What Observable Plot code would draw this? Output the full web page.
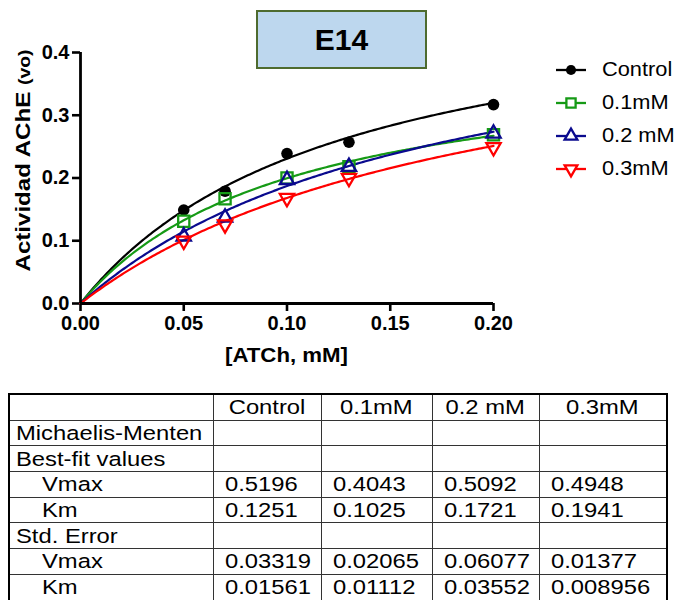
<!DOCTYPE html>
<html>
<head>
<meta charset="utf-8">
<script src="https://cdn.jsdelivr.net/npm/d3@7"></script>
<script src="https://cdn.jsdelivr.net/npm/@observablehq/plot@0.6"></script>
<style>
  html, body { margin: 0; padding: 0; background: #fff; }
  #wrap { position: relative; width: 677px; height: 600px; overflow: hidden; font-family: Arial, "Liberation Sans", sans-serif; }
  #chart { position: absolute; left: 0; top: 0; }
  #title { position: absolute; left: 256px; top: 10px; width: 167px; height: 55px; background: #bdd7ee; border: 2px solid #4e6b2f; display: flex; align-items: center; justify-content: center; font-weight: bold; font-size: 30px; color: #000; }
  #legend { position: absolute; left: 554px; top: 53px; }
  .lrow { display: flex; align-items: center; height: 33px; font-size: 20px; color: #000; }
  .lrow svg { margin-right: 14px; }
  .lrow span { display: inline-block; transform: scaleX(1.09); transform-origin: left center; }
  table { position: absolute; left: 8px; top: 393px; border-collapse: collapse; border: 2px solid #000; font-size: 20.5px; color: #000; table-layout: fixed; }
  td { border: 1px solid #333; height: 24.7px; padding: 0 0 0 11px; white-space: nowrap; line-height: 20px; overflow: visible; }
  td span { display: inline-block; transform: scaleX(1.16); transform-origin: left center; }
  td.h { text-align: center; padding: 0; }
  td.h span { transform-origin: center center; }
  td.lab { padding-left: 6px; }
  td.ind { padding-left: 32px; }
</style>
</head>
<body>
<div id="wrap">
  <div id="chart"></div>
  <div id="title">E14</div>
  <div id="legend"></div>
  <table id="tbl"></table>
</div>
<script>
// ---- data ----
const seriesNames = ["Control", "0.1mM", "0.2 mM", "0.3mM"];
const atch = [0.05, 0.07, 0.10, 0.13, 0.20];
const vControl = [0.149, 0.179, 0.239, 0.257, 0.317];
const v01mM   = [0.131, 0.167, 0.200, 0.218, 0.269];
const v02mM   = [0.107, 0.137, 0.197, 0.218, 0.271];
const v03mM   = [0.100, 0.126, 0.168, 0.200, 0.249];
const vmaxFit = [0.5196, 0.4043, 0.5092, 0.4948];
const kmFit   = [0.1251, 0.1025, 0.1721, 0.1941];
const vmaxSE  = ["0.03319", "0.02065", "0.06077", "0.01377"];
const kmSE    = ["0.01561", "0.01112", "0.03552", "0.008956"];
const xTicks = [0, 0.05, 0.10, 0.15, 0.20];
const yTicks = [0, 0.1, 0.2, 0.3, 0.4];

// ---- styles ----
const colors = ["#000000", "#169a16", "#0a0a8e", "#ff0000"];
const symbols = ["circle", "square", "triangle", "triangle"];

const values = [vControl, v01mM, v02mM, v03mM];
const points = [];
values.forEach((arr, si) => arr.forEach((v, i) => points.push({series: seriesNames[si], si, x: atch[i], y: v})));

// Michaelis-Menten fitted curves from the table's best-fit values
const curves = [];
seriesNames.forEach((name, si) => {
  for (let i = 0; i <= 200; i++) {
    const x = i * 0.001;
    curves.push({series: name, x, y: vmaxFit[si] * x / (kmFit[si] + x)});
  }
});

const dotOpts = si => {
  const o = {x: "x", y: "y", stroke: colors[si], strokeWidth: 2.3, fill: "none", symbol: symbols[si]};
  if (si === 0) { o.fill = colors[0]; o.r = 5.8; o.stroke = null; }
  if (si === 1) { o.r = 6.3; }
  if (si === 2) { o.r = 5.3; }
  if (si === 3) { o.r = 5.3; o.rotate = 180; }
  return o;
};

const plot = Plot.plot({
  width: 677,
  height: 380,
  marginLeft: 80,
  marginRight: 184,
  marginTop: 52,
  marginBottom: 77,
  style: {fontFamily: "Arial, 'Liberation Sans', sans-serif", background: "transparent", color: "#000"},
  x: {domain: [0, 0.2]},
  y: {domain: [0, 0.4]},
  marks: [
    Plot.axisX({ticks: xTicks, tickFormat: d3.format(".2f"), tickSize: 8, tickPadding: 4, strokeWidth: 2.6, fontSize: 20, fontWeight: "bold", label: null}),
    Plot.axisY({ticks: yTicks, tickFormat: d3.format(".1f"), tickSize: 8, tickPadding: 3, strokeWidth: 2.6, fontSize: 20, fontWeight: "bold", label: null}),
    Plot.line(curves, {x: "x", y: "y", z: "series", stroke: d => colors[seriesNames.indexOf(d.series)], strokeWidth: 2.2}),
    ...[0, 1, 2, 3].map(si => Plot.dot(points.filter(p => p.si === si), dotOpts(si))),
    Plot.ruleX([0], {strokeWidth: 2.8}),
    Plot.ruleY([0], {strokeWidth: 2.8})
  ]
});

const svg = d3.select(plot);
const xr = plot.scale("x").range, yr = plot.scale("y").range;
// axis titles
svg.append("text")
  .attr("x", (xr[0] + xr[1]) / 2).attr("y", yr[0] + 59)
  .attr("text-anchor", "middle").attr("font-size", 20).attr("font-weight", "bold")
  .attr("textLength", 123).attr("lengthAdjust", "spacingAndGlyphs")
  .text("[ATCh, mM]");
const yl = svg.append("text")
  .attr("transform", `translate(30,${(yr[0] + yr[1]) / 2 - 17}) rotate(-90)`)
  .attr("text-anchor", "middle").attr("font-size", 20.5).attr("font-weight", "bold")
  .attr("textLength", 222).attr("lengthAdjust", "spacingAndGlyphs");
yl.append("tspan").text("Actividad AChE ");
yl.append("tspan").attr("font-size", 16.5).text("(vo)");

document.getElementById("chart").appendChild(plot);

// ---- legend ----
const legend = d3.select("#legend");
seriesNames.forEach((name, si) => {
  const row = legend.append("div").attr("class", "lrow");
  const s = row.append("svg").attr("width", 34).attr("height", 20);
  s.append("line").attr("x1", 2).attr("x2", 32).attr("y1", 10).attr("y2", 10).attr("stroke", colors[si]).attr("stroke-width", 2.3);
  const sym = si === 0 ? d3.symbolCircle : si === 1 ? d3.symbolSquare : d3.symbolTriangle;
  const size = si === 0 ? 80 : si === 1 ? 85 : 70;
  const p = s.append("path").attr("d", d3.symbol(sym, size)()).attr("transform", `translate(17,10)${si === 3 ? " rotate(180)" : ""}`);
  if (si === 0) p.attr("fill", colors[0]);
  else p.attr("fill", "white").attr("stroke", colors[si]).attr("stroke-width", 2.3);
  row.append("span").text(name);
});

// ---- table ----
const colWidths = [204, 108, 111, 107, 128];
const tbl = d3.select("#tbl");
const cg = tbl.append("colgroup");
colWidths.forEach(w => cg.append("col").style("width", w + "px"));
const addRow = (label, cls, cells, cellCls) => {
  const tr = tbl.append("tr");
  tr.append("td").attr("class", cls).append("span").text(label);
  cells.forEach(c => tr.append("td").attr("class", cellCls || "").append("span").text(c));
};
addRow("", "lab", seriesNames, "h");
addRow("Michaelis-Menten", "lab", ["", "", "", ""]);
addRow("Best-fit values", "lab", ["", "", "", ""]);
addRow("Vmax", "ind", vmaxFit.map(v => v.toFixed(4)));
addRow("Km", "ind", kmFit.map(v => v.toFixed(4)));
addRow("Std. Error", "lab", ["", "", "", ""]);
addRow("Vmax", "ind", vmaxSE);
addRow("Km", "ind", kmSE);
</script>
</body>
</html>
